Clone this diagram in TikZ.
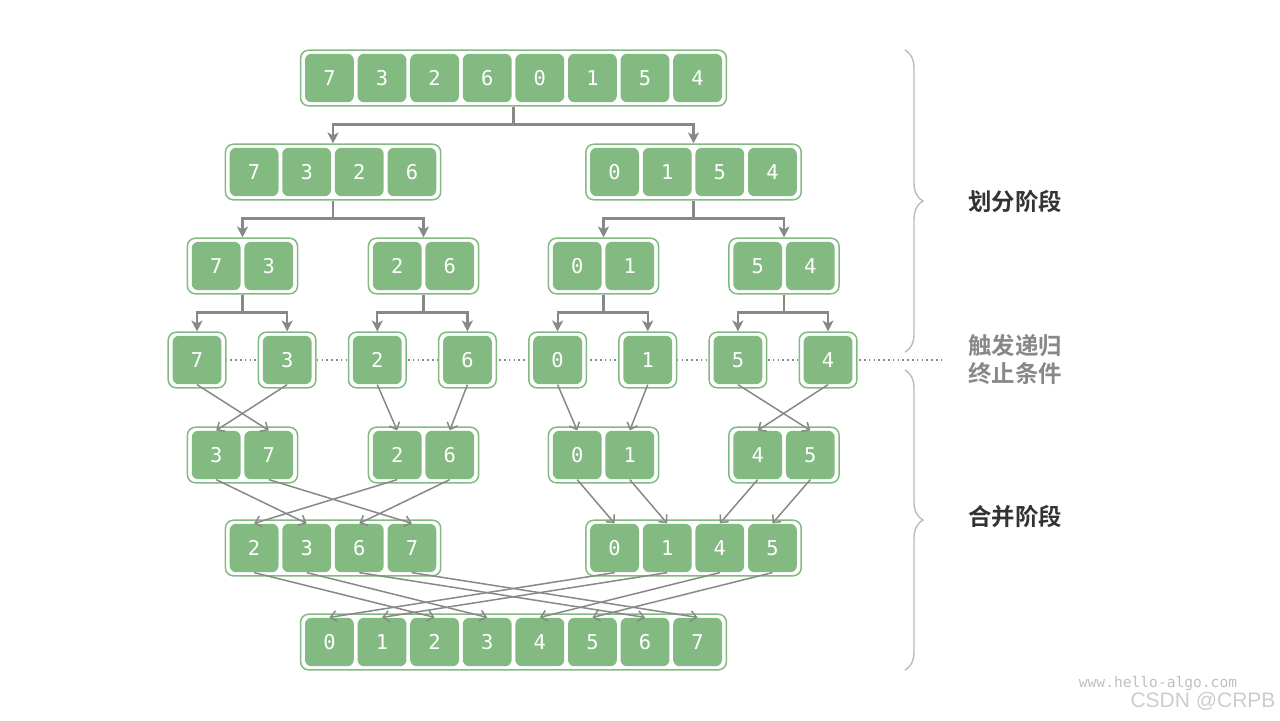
\documentclass[tikz,border=0pt]{standalone}
\usepackage{fontspec}
\setmonofont{DejaVu Sans Mono}
\newfontfamily\cjk{Noto Sans CJK SC}[BoldFont={Noto Sans CJK SC Bold}]
\newfontfamily\wmfont{Liberation Sans}
\usetikzlibrary{arrows.meta,decorations.pathreplacing}

\definecolor{cellgreen}{HTML}{82BA81}
\definecolor{arrowgray}{HTML}{888888}
\definecolor{bracegray}{HTML}{BBBBBB}

\tikzset{
  cell/.style = {fill=cellgreen, rounded corners=3.2pt, minimum width=24.4pt, minimum height=24.2pt,
    inner sep=0pt, text=white, font=\ttfamily\fontsize{10.2}{11}\selectfont},
  frame/.style = {draw=cellgreen, line width=0.75pt, fill=white, rounded corners=4pt,
    minimum height=27.8pt, inner sep=0pt},
  split/.style = {arrowgray, line width=1.1pt, -{Stealth[length=5.5pt,width=5.5pt,inset=1.5pt]}},
  merge/.style = {arrowgray, line width=0.75pt, -{Straight Barb[length=3pt,width=5.5pt]}},
  stage/.style = {font=\cjk\bfseries\fontsize{11.7}{14}\selectfont, text=black!80, align=center},
}

% one array: name, centre x, centre y, length, values
\newcommand{\arrayrow}[5]{
  \node[frame, minimum width={#4*26.3pt+2.5pt}] (#1) at ({#2},{#3}) {};
  \foreach \v [count=\k] in {#5}
    \node[cell] (#1-\k) at ({#2+(\k-(#4+1)/2)*52.6}, {#3}) {\v};
}

\begin{document}
\begin{tikzpicture}[x=0.5pt, y=-0.5pt]
  \useasboundingbox (0,0) rectangle (1280,720);
  % base case line
  \draw[arrowgray, line width=0.8pt, dash pattern=on 0.8pt off 1.6pt] (168,360) -- (945,360);

  % divide
  \arrayrow{a}{513.5}{78}{8}{7,3,2,6,0,1,5,4}
  \arrayrow{b1}{333}{172}{4}{7,3,2,6}
  \arrayrow{b2}{693.5}{172}{4}{0,1,5,4}
  \arrayrow{c1}{242.5}{266}{2}{7,3}
  \arrayrow{c2}{423.5}{266}{2}{2,6}
  \arrayrow{c3}{603.5}{266}{2}{0,1}
  \arrayrow{c4}{784}{266}{2}{5,4}
  \foreach \w [count=\i] in {7,3,2,6,0,1,5,4}{
    \arrayrow{d\i}{197+(\i-1)*90.15}{360}{1}{\w}
  }

  % merge
  \arrayrow{e1}{242.5}{455}{2}{3,7}
  \arrayrow{e2}{423.5}{455}{2}{2,6}
  \arrayrow{e3}{603.5}{455}{2}{0,1}
  \arrayrow{e4}{784}{455}{2}{4,5}
  \arrayrow{f1}{333}{548}{4}{2,3,6,7}
  \arrayrow{f2}{693.5}{548}{4}{0,1,4,5}
  \arrayrow{g}{513.5}{642}{8}{0,1,2,3,4,5,6,7}

  \foreach \p/\q in {a/b1, a/b2, b1/c1, b1/c2, b2/c3, b2/c4, c1/d1, c1/d2,
                     c2/d3, c2/d4, c3/d5, c3/d6, c4/d7, c4/d8}
    \draw[split] (\p.south) -- ++(0,18) -| (\q.north);

  \foreach \p/\q in {d1-1/e1-2, d2-1/e1-1, d3-1/e2-1, d4-1/e2-2,
                     d5-1/e3-1, d6-1/e3-2, d7-1/e4-2, d8-1/e4-1,
                     e1-1/f1-2, e1-2/f1-4, e2-1/f1-1, e2-2/f1-3,
                     e3-1/f2-1, e3-2/f2-2, e4-1/f2-3, e4-2/f2-4,
                     f1-1/g-3, f1-2/g-4, f1-3/g-7, f1-4/g-8,
                     f2-1/g-1, f2-2/g-2, f2-3/g-5, f2-4/g-6}
    \draw[merge] (\p.south) -- (\q.north);

  % stages
  \draw[bracegray, line width=0.7pt, decorate, decoration={brace, amplitude=9pt}] (905,50) -- (905,352);
  \draw[bracegray, line width=0.7pt, decorate, decoration={brace, amplitude=9pt}] (905,370) -- (905,670);
  \node[stage] (divide) at (1015,202) {划分阶段};
  \node[stage, text=arrowgray] (stop) at (1015,359) {触发递归\\终止条件};
  \node[stage] (combine) at (1015,517) {合并阶段};

  \node[text=black!25, font=\ttfamily\fontsize{7.3}{8}\selectfont, inner sep=0pt] (site) at (1158,683) {www.hello-algo.com};
  \node[text=black!20, font=\wmfont\fontsize{10.5}{12}\selectfont, inner sep=0pt] (csdn) at (1203,701) {CSDN @CRPB};
\end{tikzpicture}
\end{document}
